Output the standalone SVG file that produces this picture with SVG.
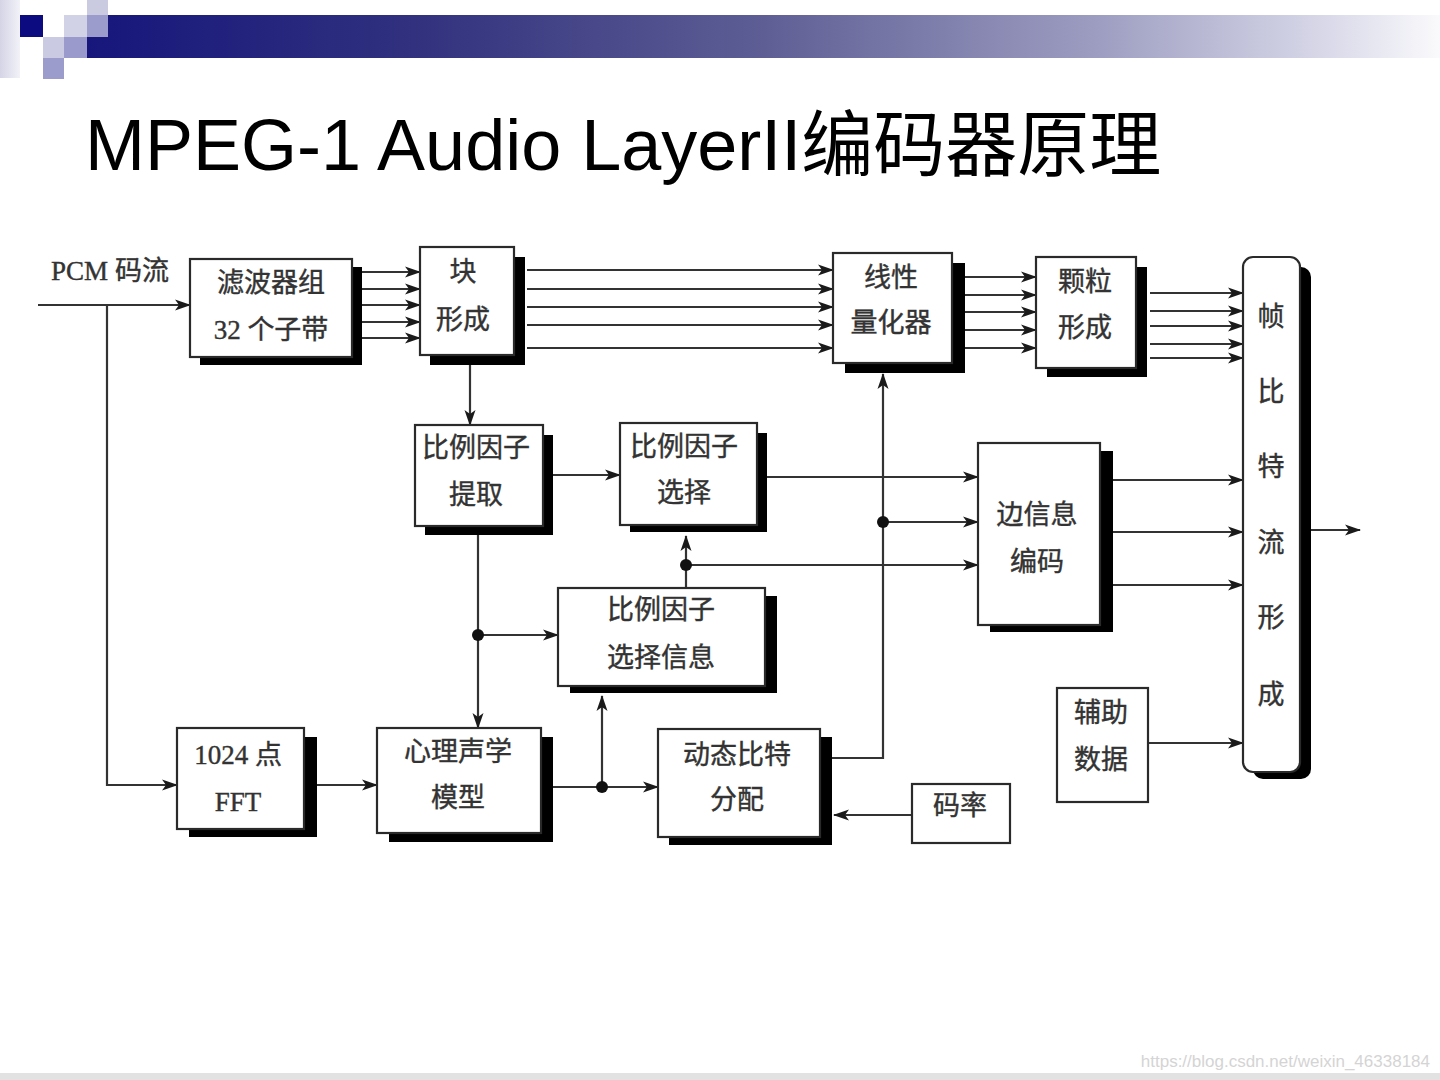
<svg xmlns="http://www.w3.org/2000/svg" width="1440" height="1080" viewBox="0 0 1440 1080">
<style>
.box{fill:#fff;stroke:#2a2a2a;stroke-width:2.2}
.sh{fill:#000}
.lbl{font-family:"Liberation Serif","Noto Sans CJK SC",serif;font-size:27px;fill:#333;text-anchor:middle;dominant-baseline:central;stroke:#333;stroke-width:0.4}
.ln{fill:none;stroke:#333;stroke-width:2.2}
.ar{marker-end:url(#ah)}
</style>
<defs>
<marker id="ah" markerWidth="16" markerHeight="12" refX="15" refY="6" orient="auto" markerUnits="userSpaceOnUse">
<path d="M0,0.5 L16,6 L0,11.5 L4,6 z" fill="#1a1a1a"/>
</marker>
<linearGradient id="bar" x1="87" y1="0" x2="1440" y2="0" gradientUnits="userSpaceOnUse">
<stop offset="0" stop-color="#16167c"/>
<stop offset="0.25" stop-color="#32327f"/>
<stop offset="0.5" stop-color="#5e5e95"/>
<stop offset="0.75" stop-color="#9e9ec2"/>
<stop offset="0.92" stop-color="#dadaea"/>
<stop offset="1" stop-color="#fafafc"/>
</linearGradient>
<linearGradient id="side" x1="0" y1="0" x2="20" y2="0" gradientUnits="userSpaceOnUse">
<stop offset="0" stop-color="#d4d4e6"/>
<stop offset="1" stop-color="#f2f2f8"/>
</linearGradient>
</defs>
<rect width="1440" height="1080" fill="#fff"/>
<!-- header decoration -->
<g id="header">
<rect x="0" y="0" width="20" height="78" fill="url(#side)"/>
<rect x="108" y="15" width="1332" height="22" fill="url(#bar)"/>
<rect x="87" y="37" width="1353" height="21" fill="url(#bar)"/>
<rect x="20" y="15" width="23" height="22" fill="#0c0c80"/>
<rect x="87" y="0" width="21" height="15" fill="#cacae0"/>
<rect x="87" y="15" width="21" height="22" fill="#9c9ccc"/>
<rect x="64" y="15" width="23" height="22" fill="#d2d2e6"/>
<rect x="43" y="37" width="21" height="21" fill="#cacae2"/>
<rect x="64" y="37" width="23" height="21" fill="#9a9acc"/>
<rect x="43" y="58" width="21" height="21" fill="#9c9ccc"/>
</g>
<text id="title" x="85" y="170" font-family="'Liberation Sans','Noto Sans CJK SC',sans-serif" font-size="72" fill="#000">MPEG-1 Audio LayerII编码器原理</text>

<!-- connectors -->
<g id="connectors">
<path class="ln ar" d="M38,305 H190"/>
<path class="ln ar" d="M107,305 V785 H177"/>
<path class="ln ar" d="M362,272 H420"/>
<path class="ln ar" d="M362,289 H420"/>
<path class="ln ar" d="M362,305 H420"/>
<path class="ln ar" d="M362,322 H420"/>
<path class="ln ar" d="M362,338 H420"/>
<path class="ln ar" d="M527,270 H833"/>
<path class="ln ar" d="M527,289 H833"/>
<path class="ln ar" d="M527,307 H833"/>
<path class="ln ar" d="M527,325 H833"/>
<path class="ln ar" d="M527,348 H833"/>
<path class="ln ar" d="M965,277 H1036"/>
<path class="ln ar" d="M965,295 H1036"/>
<path class="ln ar" d="M965,312 H1036"/>
<path class="ln ar" d="M965,330 H1036"/>
<path class="ln ar" d="M965,348 H1036"/>
<path class="ln ar" d="M1150,293 H1243"/>
<path class="ln ar" d="M1150,311 H1243"/>
<path class="ln ar" d="M1150,326 H1243"/>
<path class="ln ar" d="M1150,344 H1243"/>
<path class="ln ar" d="M1150,358 H1243"/>
<path class="ln ar" d="M470,365 V425"/>
<path class="ln ar" d="M552,475 H620"/>
<path class="ln ar" d="M767,477 H978"/>
<path class="ln ar" d="M478,535 V728"/>
<path class="ln ar" d="M478,635 H558"/>
<circle cx="478" cy="635" r="6" fill="#111"/>
<path class="ln ar" d="M686,588 V536"/>
<path class="ln ar" d="M686,565 H978"/>
<circle cx="686" cy="565" r="6" fill="#111"/>
<path class="ln ar" d="M317,785 H377"/>
<path class="ln ar" d="M553,787 H658"/>
<path class="ln ar" d="M602,787 V696"/>
<circle cx="602" cy="787" r="6" fill="#111"/>
<path class="ln ar" d="M832,758 H883 V374"/>
<path class="ln ar" d="M883,522 H978"/>
<circle cx="883" cy="522" r="6" fill="#111"/>
<path class="ln ar" d="M912,815 H834"/>
<path class="ln ar" d="M1113,480 H1243"/>
<path class="ln ar" d="M1113,532 H1243"/>
<path class="ln ar" d="M1113,585 H1243"/>
<path class="ln ar" d="M1148,743 H1243"/>
<path class="ln ar" d="M1310,530 H1360"/>
</g>

<!-- nodes -->
<g id="pcm">
<text class="lbl" x="110" y="271" font-size="25">PCM 码流</text>
</g>
<g id="filterbank">
<rect class="sh" x="200" y="267" width="162" height="98"/>
<rect class="box" x="190" y="259" width="162" height="98"/>
<text class="lbl" x="271" y="283">滤波器组</text>
<text class="lbl" x="271" y="330">32 个子带</text>
</g>
<g id="block">
<rect class="sh" x="430" y="257" width="95" height="108"/>
<rect class="box" x="420" y="247" width="94" height="108"/>
<text class="lbl" x="463" y="272">块</text>
<text class="lbl" x="463" y="320">形成</text>
</g>
<g id="quantizer">
<rect class="sh" x="845" y="263" width="120" height="110"/>
<rect class="box" x="833" y="253" width="119" height="110"/>
<text class="lbl" x="891" y="278">线性</text>
<text class="lbl" x="891" y="323">量化器</text>
</g>
<g id="granule">
<rect class="sh" x="1047" y="267" width="100" height="110"/>
<rect class="box" x="1036" y="257" width="100" height="111"/>
<text class="lbl" x="1085" y="282">颗粒</text>
<text class="lbl" x="1085" y="328">形成</text>
</g>
<g id="frame">
<rect class="sh" x="1253" y="267" width="58" height="512" rx="10"/>
<rect class="box" x="1243" y="257" width="57" height="515" rx="10"/>
<text class="lbl" x="1271" y="317" font-size="26">帧</text>
<text class="lbl" x="1271" y="392" font-size="26">比</text>
<text class="lbl" x="1271" y="467" font-size="26">特</text>
<text class="lbl" x="1271" y="543" font-size="26">流</text>
<text class="lbl" x="1271" y="618" font-size="26">形</text>
<text class="lbl" x="1271" y="695" font-size="26">成</text>
</g>
<g id="sf-extract">
<rect class="sh" x="425" y="435" width="128" height="100"/>
<rect class="box" x="415" y="425" width="128" height="101"/>
<text class="lbl" x="476" y="448">比例因子</text>
<text class="lbl" x="476" y="495">提取</text>
</g>
<g id="sf-select">
<rect class="sh" x="630" y="433" width="137" height="99"/>
<rect class="box" x="620" y="423" width="137" height="102"/>
<text class="lbl" x="684" y="447">比例因子</text>
<text class="lbl" x="684" y="493">选择</text>
</g>
<g id="scfsi">
<rect class="sh" x="570" y="596" width="207" height="97"/>
<rect class="box" x="558" y="588" width="207" height="98"/>
<text class="lbl" x="661" y="610">比例因子</text>
<text class="lbl" x="661" y="658">选择信息</text>
</g>
<g id="sideinfo">
<rect class="sh" x="990" y="451" width="123" height="181"/>
<rect class="box" x="978" y="443" width="122" height="182"/>
<text class="lbl" x="1037" y="515">边信息</text>
<text class="lbl" x="1037" y="562">编码</text>
</g>
<g id="ancillary">
<rect class="box" x="1057" y="688" width="91" height="114"/>
<text class="lbl" x="1101" y="713">辅助</text>
<text class="lbl" x="1101" y="760">数据</text>
</g>
<g id="fft">
<rect class="sh" x="189" y="737" width="128" height="100"/>
<rect class="box" x="177" y="728" width="127" height="101"/>
<text class="lbl" x="238" y="755">1024 点</text>
<text class="lbl" x="238" y="802">FFT</text>
</g>
<g id="psycho">
<rect class="sh" x="389" y="737" width="164" height="105"/>
<rect class="box" x="377" y="728" width="164" height="105"/>
<text class="lbl" x="458" y="752">心理声学</text>
<text class="lbl" x="458" y="798">模型</text>
</g>
<g id="bitalloc">
<rect class="sh" x="669" y="737" width="163" height="108"/>
<rect class="box" x="658" y="729" width="162" height="108"/>
<text class="lbl" x="737" y="755">动态比特</text>
<text class="lbl" x="737" y="800">分配</text>
</g>
<g id="bitrate">
<rect class="box" x="912" y="784" width="98" height="59"/>
<text class="lbl" x="960" y="806">码率</text>
</g>

<text id="watermark" x="1430" y="1067" text-anchor="end" font-family="'Liberation Sans',sans-serif" font-size="17" fill="#d4d4d4">https://blog.csdn.net/weixin_46338184</text>
<rect x="0" y="1073" width="1440" height="7" fill="#e2e2e2"/>
</svg>
